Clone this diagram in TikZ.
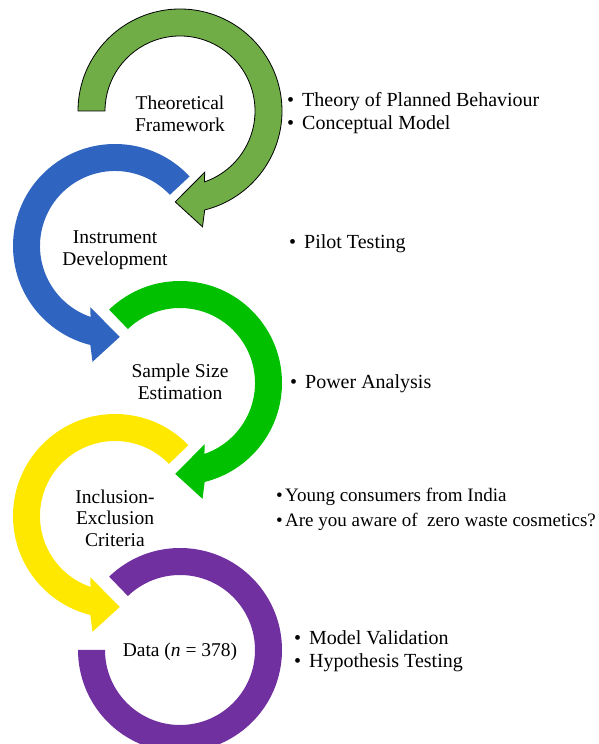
\documentclass[tikz,border=0pt]{standalone}
\usepackage{fontspec}
\setmainfont{Liberation Serif}
\definecolor{FrameGreen}{RGB}{112, 173, 71}
\definecolor{InstrumentBlue}{RGB}{47, 100, 192}
\definecolor{SampleGreen}{RGB}{0, 192, 0}
\definecolor{CriteriaYellow}{RGB}{255, 232, 0}
\definecolor{DataPurple}{RGB}{112, 48, 160}
\newcommand{\bul}{\makebox[15pt][l]{\textbullet}}
\newcommand{\tightbul}{\makebox[9pt][l]{\textbullet}}

\begin{document}
\begin{tikzpicture}[x=1pt, y=1pt,
    stage/.style={font=\fontsize{19.5}{21.5}\selectfont, align=center, inner sep=0pt},
    points/.style={font=\fontsize{20}{23.5}\selectfont, align=left, anchor=base west, inner sep=0pt}]
    \useasboundingbox (0,0) rectangle (599,744);
    \clip (0,0) rectangle (599,744);

    % Theoretical framework: clockwise arrow with outline
    \begin{scope}[shift={(180,633)}]
        \draw[fill=FrameGreen, draw=black, line width=0.8pt]
            (180:102) arc[start angle=180, end angle=-76, radius=102]
            -- (-79:118) -- (-93:91) -- (-68:66) -- (-71:75)
            arc[start angle=-71, end angle=180, radius=75] -- cycle;
    \end{scope}

    % Instrument development: counter-clockwise arrow
    \begin{scope}[shift={(115,498)}]
        \fill[InstrumentBlue]
            (43:102) arc[start angle=43, end angle=256, radius=102]
            -- (259:118) -- (273:91) -- (248:66) -- (251:75)
            arc[start angle=251, end angle=43, radius=75] -- cycle;
    \end{scope}

    % Sample size: clockwise arrow
    \begin{scope}[shift={(180,361)}]
        \fill[SampleGreen]
            (134:102) arc[start angle=134, end angle=-76, radius=102]
            -- (-79:118) -- (-93:91) -- (-68:66) -- (-71:75)
            arc[start angle=-71, end angle=134, radius=75] -- cycle;
    \end{scope}

    % Inclusion-exclusion: counter-clockwise arrow
    \begin{scope}[shift={(115,228)}]
        \fill[CriteriaYellow]
            (44:102) arc[start angle=44, end angle=256, radius=102]
            -- (259:118) -- (273:91) -- (248:66) -- (251:75)
            arc[start angle=251, end angle=44, radius=75] -- cycle;
    \end{scope}

    % Data: open ring, no head
    \begin{scope}[shift={(180,94)}]
        \fill[DataPurple]
            (134:102) arc[start angle=134, end angle=-180, radius=102]
            -- (180:75) arc[start angle=-180, end angle=134, radius=75] -- cycle;
    \end{scope}

    % Stage labels
    \node[stage] (framework) at (180,630) {Theoretical\\Framework};
    \node[stage] (instrument) at (115,494) {Instrument\\Development};
    \node[stage] (sample) at (180,362) {Sample Size\\Estimation};
    \node[stage] (criteria) at (115,226) {Inclusion-\\Exclusion\\Criteria};
    \node[stage] (data) at (180,92) {Data (\textit{n} = 378)};

    % Bullet points (base = last line)
    \node[points] (frameworkpts) at (287,614) {\bul Theory of Planned Behaviour\\\bul Conceptual Model};
    \node[points] (instrumentpts) at (289,495) {\bul Pilot Testing};
    \node[points] (samplepts) at (290,355) {\bul Power Analysis};
    \node[points, font=\fontsize{19}{25}\selectfont] (criteriapts) at (276,217)
        {\tightbul Young consumers from India\\\tightbul Are you aware of~ zero waste cosmetics?};
    \node[points] (datapts) at (294,76) {\bul Model Validation\\\bul Hypothesis Testing};
\end{tikzpicture}
\end{document}
